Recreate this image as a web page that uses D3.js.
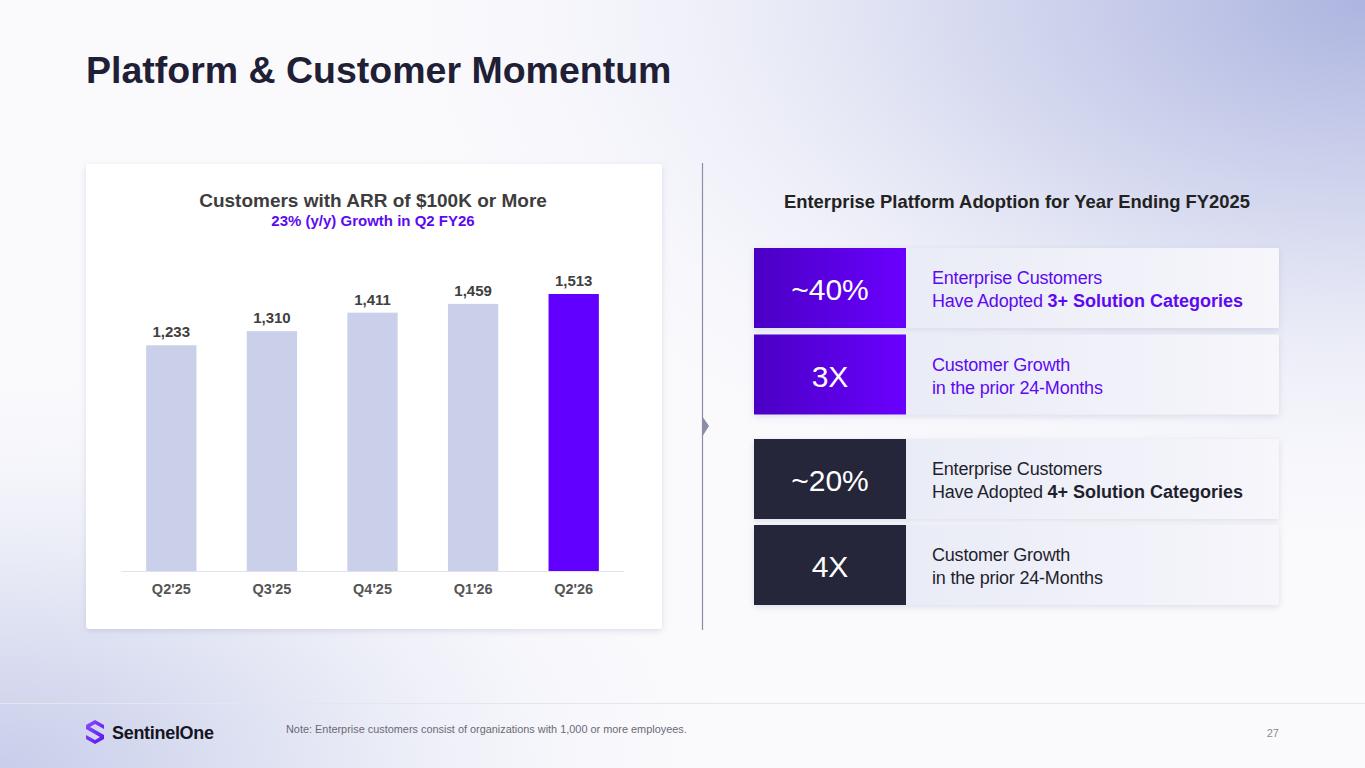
<!DOCTYPE html>
<html lang="en">
<head>
  <meta charset="UTF-8">
  <title>Platform & Customer Momentum</title>
  <script src="https://d3js.org/d3.v7.min.js"></script>
  <style>
    html, body { margin: 0; padding: 0; overflow: hidden; }
    svg text { font-family: "Liberation Sans", Arimo, Arial, Helvetica, sans-serif; }
  </style>
</head>
<body>
  <div id="slide"></div>

  <script>
    // Chart data
    const quarters = ["Q2'25", "Q3'25", "Q4'25", "Q1'26", "Q2'26"];
    const customers = [1233, 1310, 1411, 1459, 1513];
    const highlightQuarter = "Q2'26";

    // Adoption cards
    const cardStats = ["~40%", "3X", "~20%", "4X"];
    const cardLine1 = ["Enterprise Customers", "Customer Growth", "Enterprise Customers", "Customer Growth"];
    const cardLine2Plain = ["Have Adopted ", "in the prior 24-Months", "Have Adopted ", "in the prior 24-Months"];
    const cardLine2Bold = ["3+ Solution Categories", "", "4+ Solution Categories", ""];
    const cardTheme = ["purple", "purple", "dark", "dark"];

    const W = 1365, H = 768;
    const FONT = "'Liberation Sans', Arimo, Arial, Helvetica, sans-serif";
    const svg = d3.select("#slide").append("svg")
      .attr("width", W).attr("height", H)
      .attr("font-family", FONT);

    const defs = svg.append("defs");

    // background glows
    const bgTR = defs.append("radialGradient").attr("id", "bgTR")
      .attr("cx", "100%").attr("cy", "0%").attr("r", "75%");
    bgTR.append("stop").attr("offset", "0%").attr("stop-color", "#adb5e0");
    bgTR.append("stop").attr("offset", "45%").attr("stop-color", "#dde0f2");
    bgTR.append("stop").attr("offset", "100%").attr("stop-color", "#fbfbfd").attr("stop-opacity", 0);

    const bgBL = defs.append("radialGradient").attr("id", "bgBL")
      .attr("cx", "0%").attr("cy", "100%").attr("r", "55%");
    bgBL.append("stop").attr("offset", "0%").attr("stop-color", "#c8cdea");
    bgBL.append("stop").attr("offset", "50%").attr("stop-color", "#e9ebf6");
    bgBL.append("stop").attr("offset", "100%").attr("stop-color", "#fbfbfd").attr("stop-opacity", 0);

    const purpleGrad = defs.append("linearGradient").attr("id", "purpleGrad")
      .attr("x1", "0%").attr("y1", "0%").attr("x2", "100%").attr("y2", "0%");
    purpleGrad.append("stop").attr("offset", "0%").attr("stop-color", "#4a00c4");
    purpleGrad.append("stop").attr("offset", "100%").attr("stop-color", "#6a00ff");

    const lightGrad = defs.append("linearGradient").attr("id", "lightGrad")
      .attr("x1", "0%").attr("y1", "0%").attr("x2", "100%").attr("y2", "0%");
    lightGrad.append("stop").attr("offset", "0%").attr("stop-color", "#e4e7f4");
    lightGrad.append("stop").attr("offset", "100%").attr("stop-color", "#f6f6fb");

    const logoGrad = defs.append("linearGradient").attr("id", "logoGrad")
      .attr("x1", "0%").attr("y1", "0%").attr("x2", "100%").attr("y2", "100%");
    logoGrad.append("stop").attr("offset", "0%").attr("stop-color", "#8a4dff");
    logoGrad.append("stop").attr("offset", "100%").attr("stop-color", "#5a12f0");

    const shadow = defs.append("filter").attr("id", "shadow")
      .attr("x", "-10%").attr("y", "-10%").attr("width", "120%").attr("height", "130%");
    shadow.append("feDropShadow").attr("dx", 0).attr("dy", 2).attr("stdDeviation", 3)
      .attr("flood-color", "#8088b0").attr("flood-opacity", 0.25);

    svg.append("rect").attr("width", W).attr("height", H).attr("fill", "#fafafd");
    svg.append("rect").attr("width", W).attr("height", H).attr("fill", "url(#bgTR)");
    svg.append("rect").attr("width", W).attr("height", H).attr("fill", "url(#bgBL)");

    // Slide title
    svg.append("text")
      .attr("x", 86).attr("y", 83)
      .style("font-size", "37.5px").style("font-weight", "bold")
      .attr("fill", "#1f2035")
      .text("Platform & Customer Momentum");

    // ---- Bar chart panel ----
    const panel = {x: 86, y: 164, w: 576, h: 465};
    svg.append("rect")
      .attr("x", panel.x).attr("y", panel.y)
      .attr("width", panel.w).attr("height", panel.h)
      .attr("rx", 3).attr("fill", "#ffffff")
      .attr("filter", "url(#shadow)");

    svg.append("text")
      .attr("x", 373).attr("y", 207)
      .attr("text-anchor", "middle")
      .style("font-size", "19px").style("font-weight", "bold")
      .attr("fill", "#3d3d3d")
      .text("Customers with ARR of $100K or More");

    svg.append("text")
      .attr("x", 373).attr("y", 226)
      .attr("text-anchor", "middle")
      .style("font-size", "15px").style("font-weight", "bold")
      .attr("fill", "#5d0af2")
      .text("23% (y/y) Growth in Q2 FY26");

    const baseY = 571;
    const x = d3.scaleBand()
      .domain(quarters)
      .range([121, 624])
      .paddingInner(0.5)
      .paddingOuter(0.25);

    const y = d3.scaleLinear()
      .domain([0, d3.max(customers)])
      .range([baseY, 294]);

    const chart = svg.append("g");

    chart.selectAll("rect.bar")
      .data(quarters)
      .join("rect")
      .attr("class", "bar")
      .attr("x", d => x(d))
      .attr("width", x.bandwidth())
      .attr("y", (d, i) => y(customers[i]))
      .attr("height", (d, i) => baseY - y(customers[i]))
      .attr("fill", d => d === highlightQuarter ? "#6100ff" : "#cbd0ea");

    chart.selectAll("text.val")
      .data(quarters)
      .join("text")
      .attr("class", "val")
      .attr("x", d => x(d) + x.bandwidth() / 2)
      .attr("y", (d, i) => y(customers[i]) - 8)
      .attr("text-anchor", "middle")
      .style("font-size", "15px").style("font-weight", "bold")
      .attr("fill", "#404040")
      .text((d, i) => d3.format(",")(customers[i]));

    const xAxis = chart.append("g")
      .attr("transform", `translate(0, ${baseY})`)
      .call(d3.axisBottom(x).tickSize(0).tickPadding(13));
    xAxis.attr("font-family", FONT);
    xAxis.select(".domain").attr("stroke", "#e2e3ea");
    xAxis.selectAll("text")
      .style("font-size", "14.5px").style("font-weight", "bold")
      .attr("fill", "#555555");

    // ---- Divider with arrow ----
    svg.append("line")
      .attr("x1", 702.5).attr("x2", 702.5)
      .attr("y1", 163).attr("y2", 630)
      .attr("stroke", "#8b8ca6").attr("stroke-width", 1.2);
    svg.append("path")
      .attr("d", "M702,416 L709,426 L702,437 Z")
      .attr("fill", "#8b8ca6");

    // ---- Adoption cards ----
    svg.append("text")
      .attr("x", 1017).attr("y", 208)
      .attr("text-anchor", "middle")
      .style("font-size", "18.4px").style("font-weight", "bold")
      .attr("fill", "#222222")
      .text("Enterprise Platform Adoption for Year Ending FY2025");

    const cardTops = [248, 334.5, 439, 525];
    const cardH = 80;

    const cards = svg.selectAll("g.card")
      .data(cardStats)
      .join("g")
      .attr("class", "card")
      .attr("transform", (d, i) => `translate(754, ${cardTops[i]})`);

    cards.append("rect")
      .attr("x", 0).attr("y", 0)
      .attr("width", 525).attr("height", cardH)
      .attr("fill", "url(#lightGrad)")
      .attr("filter", "url(#shadow)");

    cards.append("rect")
      .attr("x", 0).attr("y", 0)
      .attr("width", 152).attr("height", cardH)
      .attr("fill", (d, i) => cardTheme[i] === "purple" ? "url(#purpleGrad)" : "#26263a");

    cards.append("text")
      .attr("x", 76).attr("y", 52)
      .attr("text-anchor", "middle")
      .style("font-size", "30px")
      .attr("fill", "#ffffff")
      .text(d => d);

    const lineColor = i => cardTheme[i] === "purple" ? "#5d0af2" : "#1f1f2e";

    cards.append("text")
      .attr("x", 178).attr("y", 36)
      .style("font-size", "18px").style("letter-spacing", "-0.2px")
      .attr("fill", (d, i) => lineColor(i))
      .text((d, i) => cardLine1[i]);

    const l2 = cards.append("text")
      .attr("x", 178).attr("y", 59)
      .style("font-size", "18px").style("letter-spacing", "-0.2px")
      .attr("fill", (d, i) => lineColor(i));
    l2.append("tspan").text((d, i) => cardLine2Plain[i]);
    l2.append("tspan")
      .style("font-weight", "bold").style("letter-spacing", "0px")
      .text((d, i) => cardLine2Bold[i]);

    // ---- Footer ----
    svg.append("line")
      .attr("x1", 0).attr("x2", W)
      .attr("y1", 703.5).attr("y2", 703.5)
      .attr("stroke", "#e4e5ee").attr("stroke-width", 1);

    const logo = svg.append("g").attr("transform", "translate(86, 720)");
    logo.append("path")
      .attr("d", "M9,0 L18,5 L18,9 L9,4 L4,7 L18,15 L18,19 L9,24 L0,19 L0,15 L9,20 L14,17 L0,9 L0,5 Z")
      .attr("fill", "url(#logoGrad)");
    logo.append("text")
      .attr("x", 26).attr("y", 18.5)
      .style("font-size", "18px").style("font-weight", "bold")
      .style("letter-spacing", "-0.3px")
      .attr("fill", "#15151f")
      .text("SentinelOne");

    svg.append("text")
      .attr("x", 286).attr("y", 733)
      .style("font-size", "10.9px")
      .attr("fill", "#6a6a78")
      .text("Note: Enterprise customers consist of organizations with 1,000 or more employees.");

    svg.append("text")
      .attr("x", 1279).attr("y", 737)
      .attr("text-anchor", "end")
      .style("font-size", "11px")
      .attr("fill", "#8a8a98")
      .text("27");
  </script>
</body>
</html>
